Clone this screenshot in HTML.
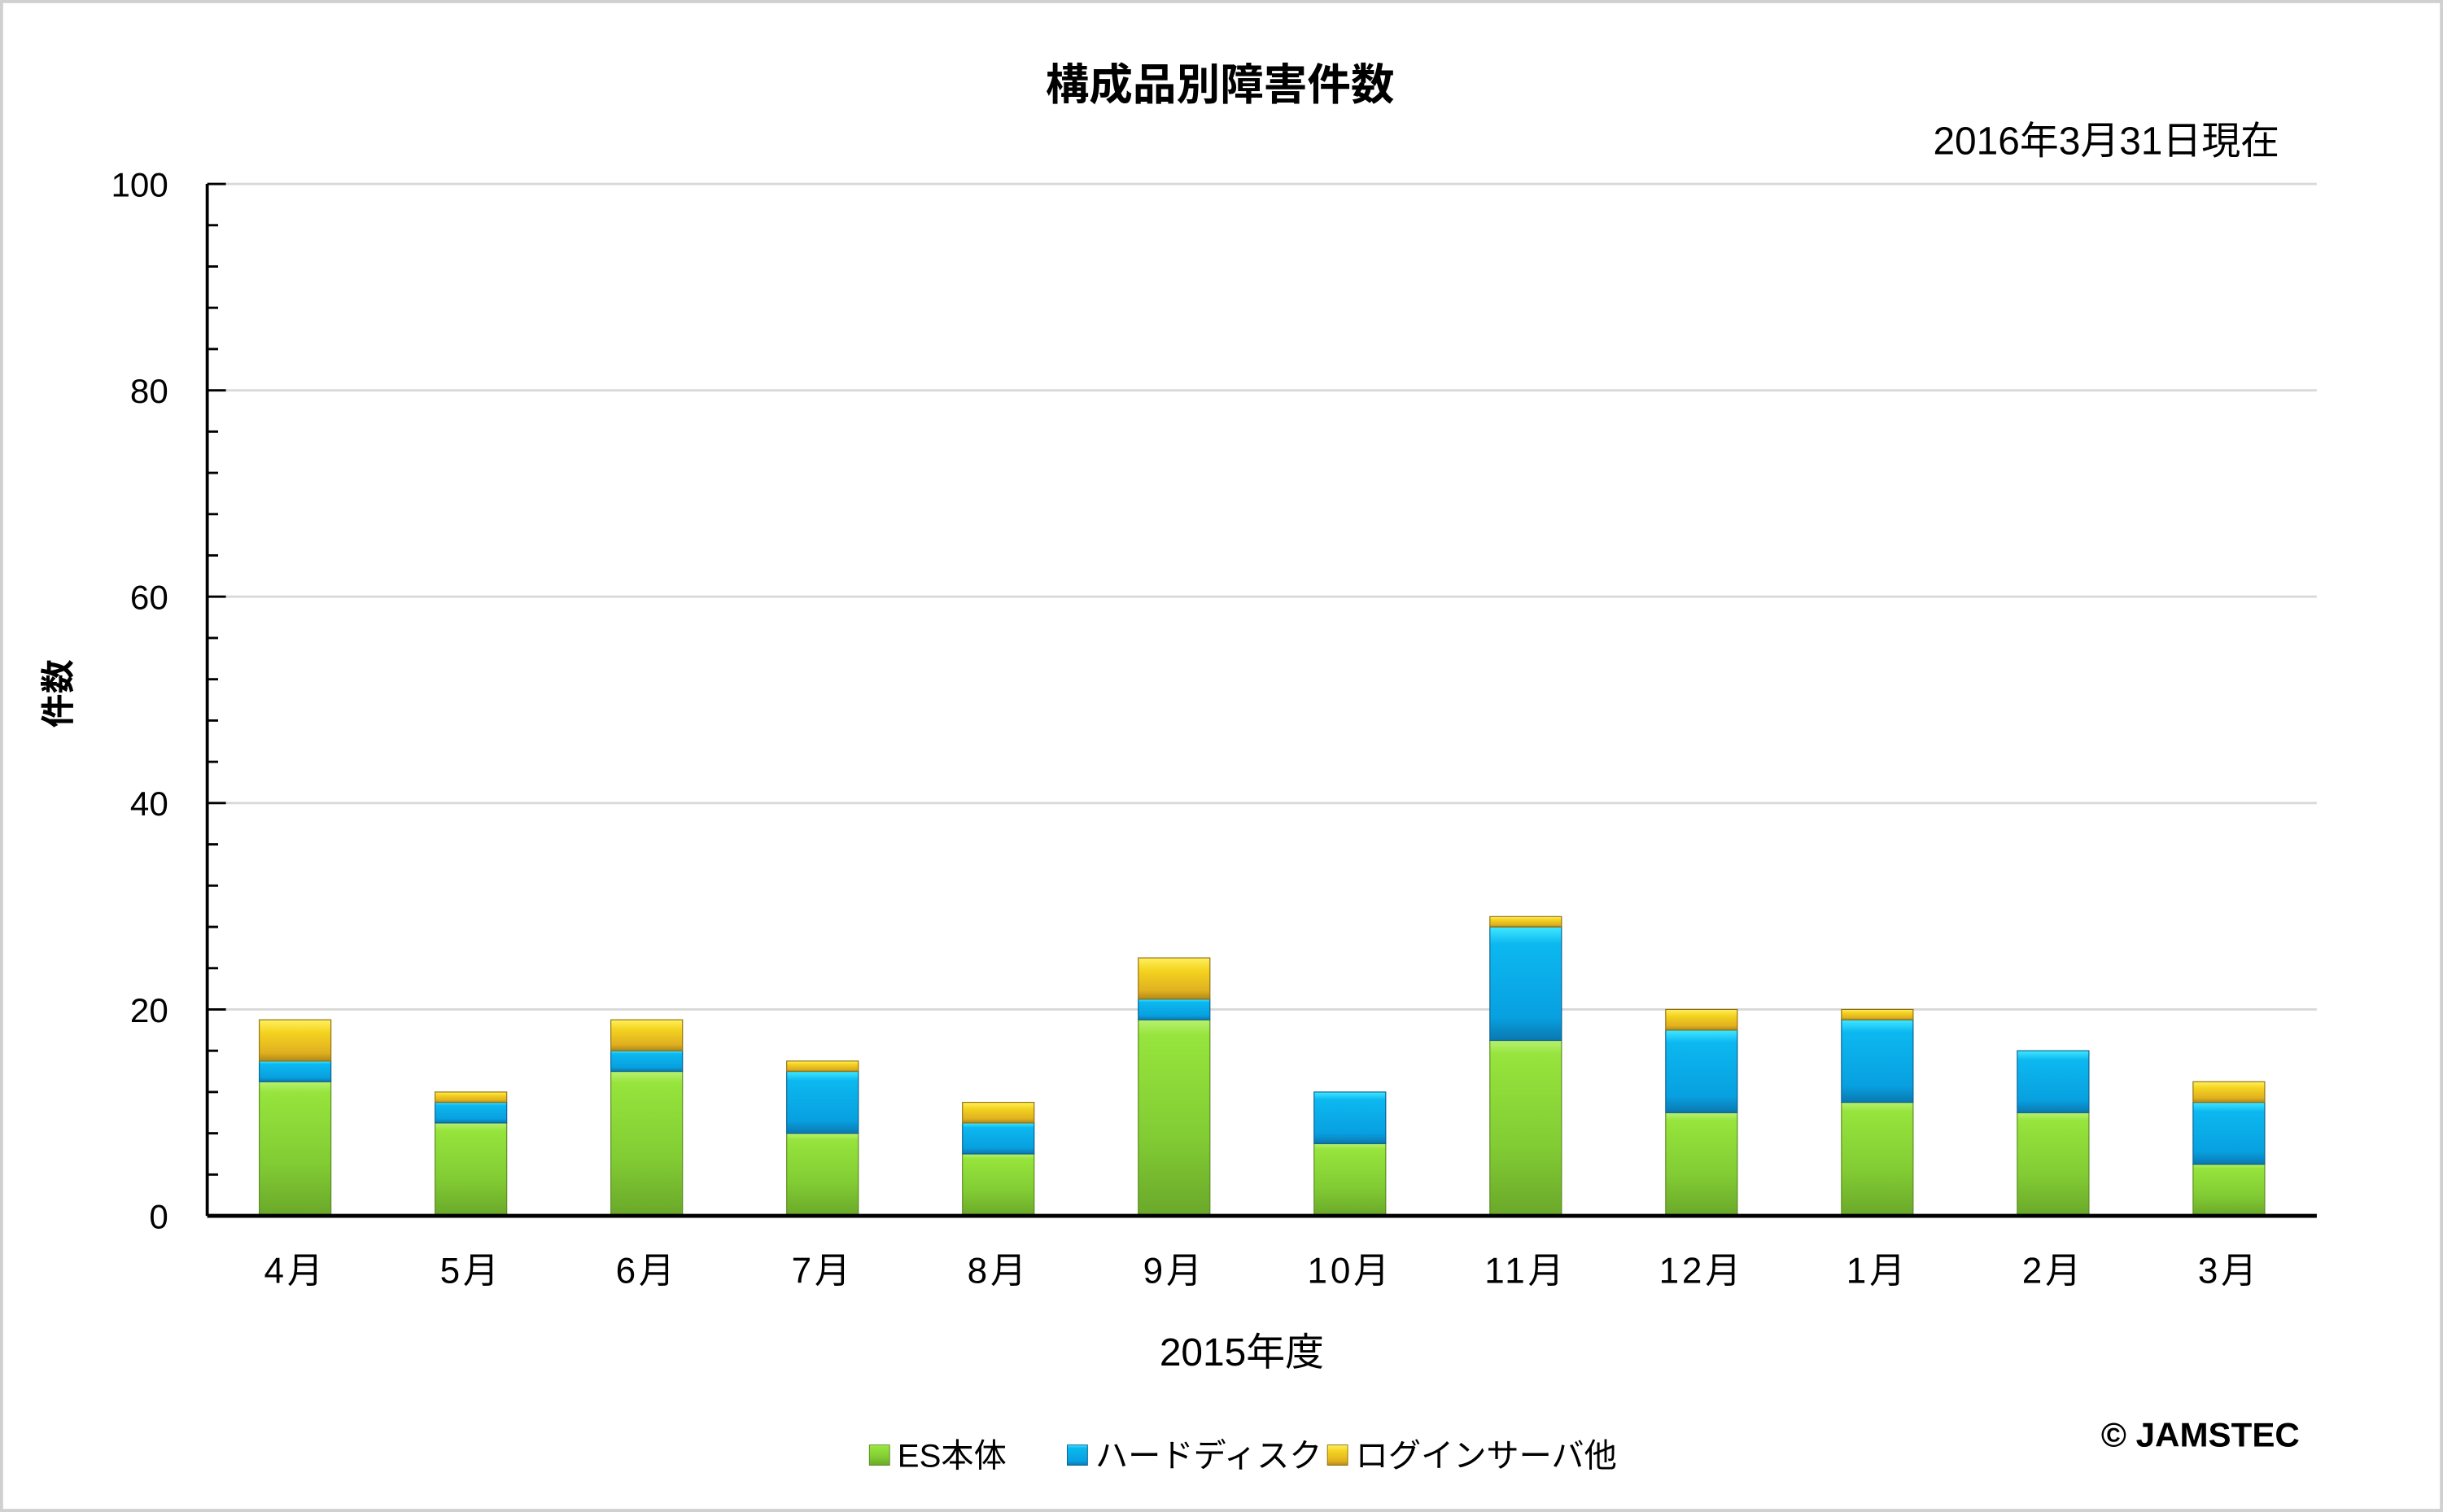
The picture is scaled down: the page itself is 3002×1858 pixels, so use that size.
<!DOCTYPE html>
<html><head><meta charset="utf-8"><style>
html,body{margin:0;padding:0;background:#fff;}
svg{display:block;font-family:"Liberation Sans","Noto Sans CJK JP",sans-serif;}
</style></head><body>
<svg id="chart" width="3002" height="1858" viewBox="0 0 1568 970" preserveAspectRatio="none">
<defs>
<linearGradient id="gG" x1="0" x2="0" y1="0" y2="1"><stop offset="0" stop-color="#b8f070"/><stop offset="0.08" stop-color="#96e43c"/><stop offset="0.6" stop-color="#82cc34"/><stop offset="1" stop-color="#6aa82a"/></linearGradient>
<linearGradient id="gB" x1="0" x2="0" y1="0" y2="1"><stop offset="0" stop-color="#40e8ff"/><stop offset="0.15" stop-color="#0cb8f0"/><stop offset="0.8" stop-color="#08a0e0"/><stop offset="1" stop-color="#0a78b0"/></linearGradient>
<linearGradient id="gY" x1="0" x2="0" y1="0" y2="1"><stop offset="0" stop-color="#fff060"/><stop offset="0.3" stop-color="#f4d420"/><stop offset="0.8" stop-color="#e0b020"/><stop offset="1" stop-color="#b08818"/></linearGradient>
</defs>
<rect x="1" y="1" width="1566" height="968" fill="#fff" stroke="#d0d0d0" stroke-width="2"/>
<text x="783" y="64" text-anchor="middle" font-size="28" font-weight="bold">構成品別障害件数</text>
<text x="1463" y="99" text-anchor="end" font-size="25">2016年3月31日現在</text>
<g id="grid"></g>
<g id="bars"></g>
<g id="axes"></g>
<text transform="translate(45,445) rotate(-90)" text-anchor="middle" font-size="22" font-weight="bold">件数</text>
<text x="797" y="876" text-anchor="middle" font-size="25">2015年度</text>
<g font-size="21">
<rect x="558" y="927" width="13" height="13" fill="url(#gG)" stroke="#5a8a20" stroke-width="0.5"/>
<text x="576" y="941">ES本体</text>
<rect x="685" y="927" width="13" height="13" fill="url(#gB)" stroke="#0a6090" stroke-width="0.5"/>
<text x="703" y="941">ハードディスク</text>
<rect x="852" y="927" width="13" height="13" fill="url(#gY)" stroke="#907010" stroke-width="0.5"/>
<text x="870" y="941">ログインサーバ他</text>
</g>
<text x="1476" y="928" text-anchor="end" font-size="22" font-weight="bold">© JAMSTEC</text>
</svg>
<script>
const categories=["4月","5月","6月","7月","8月","9月","10月","11月","12月","1月","2月","3月"];
const esValues=[13,9,14,8,6,19,7,17,10,11,10,5];
const hdValues=[2,2,2,6,3,2,5,11,8,8,6,6];
const otherValues=[4,1,3,1,2,4,0,1,2,1,0,2];
const yTicks=[0,20,40,60,80,100];
const NS="http://www.w3.org/2000/svg";
const X0=133,X1=1487,Y0=780,Y1=118,YMAX=100;
const y=v=>Y0-(v/YMAX)*(Y0-Y1);
const step=(X1-X0)/categories.length;
const xc=i=>X0+step*(i+0.5);
const BW=46;
function mk(tag,attrs,parent){const e=document.createElementNS(NS,tag);for(const k in attrs)e.setAttribute(k,attrs[k]);parent.appendChild(e);return e;}
const grid=document.getElementById('grid'),bars=document.getElementById('bars'),axes=document.getElementById('axes');
yTicks.forEach(t=>{
  if(t>0){const l=mk('line',{x1:X0,x2:X1,y1:y(t),y2:y(t),stroke:'#d9d9d9','stroke-width':1.5},grid);
  
  }
  const tx=mk('text',{x:108,y:y(t)+8,'text-anchor':'end','font-size':22},axes);
  tx.textContent=t;
  
  
});
for(let v=0;v<=YMAX;v+=4){
  const major=v%20===0;
  const tk=mk('line',{x1:X0,x2:X0+(major?12:7),y1:y(v),y2:y(v),stroke:'#000','stroke-width':1.5},axes);
  
  
}
const series=[[esValues,'url(#gG)','#5a8a20','es'],[hdValues,'url(#gB)','#0a6090','hd'],[otherValues,'url(#gY)','#907010','other']];
categories.forEach((c,i)=>{
  let base=0;
  series.forEach(s=>{
    const v=s[0][i];
    if(v>0){
      const r=mk('rect',{x:xc(i)-BW/2,y:y(base+v),width:BW,height:y(base)-y(base+v),fill:s[1],stroke:s[2],'stroke-width':0.6},bars);
      
      
    }
    base+=v;
  });
  const lb=mk('text',{x:xc(i),y:823,'text-anchor':'middle','font-size':23,'letter-spacing':'2'},axes);
  lb.textContent=c;
  
  
});
const ya=mk('line',{x1:X0,x2:X0,y1:Y1,y2:Y0,stroke:'#000','stroke-width':2},axes);


const xa=mk('line',{x1:X0,x2:X1,y1:Y0,y2:Y0,stroke:'#000','stroke-width':2.5},axes);


</script>
</body></html>
